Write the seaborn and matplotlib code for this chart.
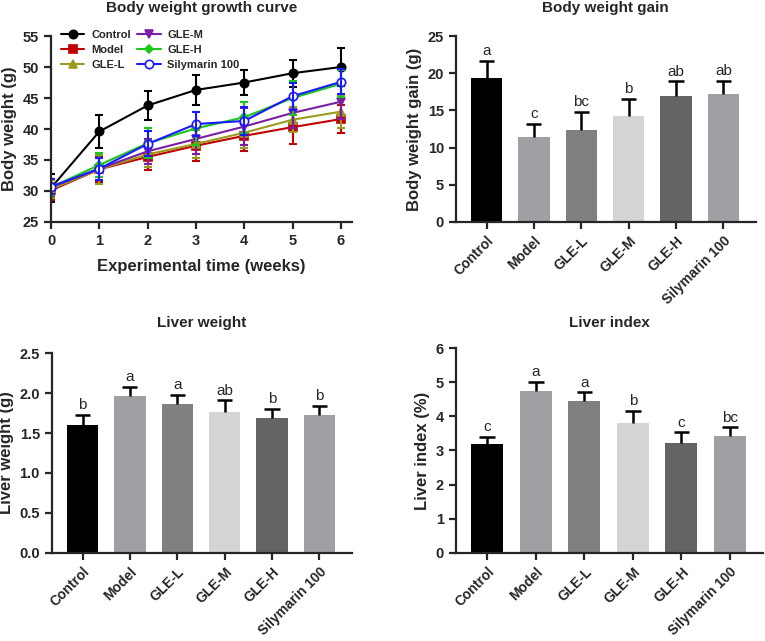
import numpy as np
import pandas as pd
import matplotlib
matplotlib.use("Agg")
import matplotlib.pyplot as plt
import seaborn as sns

sns.set_style("ticks")
plt.rcParams["font.family"] = ["Liberation Sans", "DejaVu Sans"]

# ---------- data ----------
weeks = [0, 1, 2, 3, 4, 5, 6]
groups = ["Control", "Model", "GLE-L", "GLE-M", "GLE-H", "Silymarin 100"]

growth_mean = {
    "Control":       [30.5, 39.6, 43.8, 46.3, 47.5, 49.0, 50.0],
    "Model":         [30.1, 33.5, 35.5, 37.3, 38.9, 40.3, 41.6],
    "GLE-L":         [30.3, 33.5, 35.9, 37.6, 39.4, 41.5, 42.8],
    "GLE-M":         [30.6, 33.6, 36.4, 38.4, 40.4, 42.6, 44.4],
    "GLE-H":         [30.6, 34.2, 37.7, 40.1, 41.9, 45.0, 47.3],
    "Silymarin 100": [30.7, 33.6, 37.6, 40.8, 41.3, 45.3, 47.6],
}
growth_sd = {
    "Control":       [2.2, 2.6, 2.4, 2.4, 2.0, 2.2, 3.0],
    "Model":         [1.6, 2.0, 2.1, 2.5, 2.5, 2.7, 2.2],
    "GLE-L":         [1.5, 2.3, 2.1, 2.2, 2.4, 2.0, 2.7],
    "GLE-M":         [1.4, 1.8, 2.0, 2.4, 3.0, 2.5, 2.8],
    "GLE-H":         [1.3, 2.0, 2.4, 2.7, 2.5, 2.8, 2.2],
    "Silymarin 100": [1.2, 1.8, 2.0, 2.0, 2.3, 2.2, 2.0],
}

gain_mean = [19.3, 11.4, 12.3, 14.2, 16.9, 17.2]
gain_sd = [2.35, 1.8, 2.5, 2.4, 2.0, 1.8]
gain_letters = ["a", "c", "bc", "b", "ab", "ab"]

liver_w_mean = [1.60, 1.97, 1.86, 1.77, 1.69, 1.73]
liver_w_sd = [0.13, 0.11, 0.12, 0.14, 0.11, 0.11]
liver_w_letters = ["b", "a", "a", "ab", "b", "b"]

liver_i_mean = [3.20, 4.75, 4.44, 3.81, 3.22, 3.42]
liver_i_sd = [0.20, 0.27, 0.27, 0.35, 0.31, 0.26]
liver_i_letters = ["c", "a", "a", "b", "c", "bc"]

line_colors = ["#000000", "#C00000", "#9A9A1E", "#7A1FA2", "#19C819", "#1A1AFF"]
line_markers = ["o", "s", "^", "v", "D", "o"]
bar_colors = ["#000000", "#A0A0A4", "#808080", "#D4D4D4", "#646464", "#A0A0A4"]

fig = plt.figure(figsize=(7.65, 6.41), dpi=100)

ax1 = fig.add_axes([0.0667, 0.6537, 0.3935, 0.2901])
ax2 = fig.add_axes([0.5957, 0.6537, 0.392, 0.2901])
ax3 = fig.add_axes([0.0676, 0.1378, 0.392, 0.311])
ax4 = fig.add_axes([0.5957, 0.1378, 0.4017, 0.3188])

tick_fs = 10.5
label_fs = 12
title_fs = 11


def style_axis(ax):
    sns.despine(ax=ax)
    for s in ["left", "bottom"]:
        ax.spines[s].set_linewidth(1.6)
    ax.tick_params(width=1.6, length=5, labelsize=tick_fs, direction="out")
    for lab in ax.get_xticklabels() + ax.get_yticklabels():
        lab.set_fontweight("bold")


# ---------- growth curve ----------
for g, c, m in zip(groups, line_colors, line_markers):
    df = pd.DataFrame({"week": weeks, "bw": growth_mean[g]})
    face = "white" if g == "Silymarin 100" else c
    ms = 4.5 if m == "D" else 6
    sns.lineplot(data=df, x="week", y="bw", ax=ax1, color=c, marker=m,
                 markersize=ms, markerfacecolor=face, markeredgecolor=c,
                 markeredgewidth=1.2, linewidth=1.5, label=g)
    ax1.errorbar(weeks, growth_mean[g], yerr=growth_sd[g], fmt="none",
                 ecolor=c, elinewidth=1.5, capsize=3, capthick=1.5)

ax1.set_xlim(0, 6.23)
ax1.set_ylim(25, 55)
ax1.set_xticks(weeks)
ax1.set_yticks([25, 30, 35, 40, 45, 50, 55])
ax1.set_xlabel("Experimental time (weeks)", fontsize=label_fs,
               fontweight="bold", labelpad=8)
ax1.set_ylabel("Body weight (g)", fontsize=label_fs, fontweight="bold")
ax1.set_title("Body weight growth curve", fontsize=title_fs,
              fontweight="bold", pad=17)
leg = ax1.legend(ncol=2, loc="upper left", bbox_to_anchor=(0.0, 1.085),
                 frameon=False, fontsize=8, handlelength=2.1,
                 handletextpad=0.6, columnspacing=0.6, labelspacing=0.45)
for t in leg.get_texts():
    t.set_fontweight("bold")
style_axis(ax1)


# ---------- bar charts ----------
def bar_panel(ax, means, sds, letters, ylim, yticks, ylabel, title, fmt, off, pad):
    df = pd.DataFrame({"group": groups, "value": means})
    sns.barplot(data=df, x="group", y="value", hue="group", palette=bar_colors,
                legend=False, width=0.66, errorbar=None, ax=ax, linewidth=0)
    x = np.arange(len(groups))
    tops = np.array(means) + np.array(sds)
    ax.vlines(x, means, tops, color="black", linewidth=1.8, zorder=3)
    ax.hlines(tops, x - 0.16, x + 0.16, color="black", linewidth=1.8, zorder=3)
    for i, (tp, lt) in enumerate(zip(tops, letters)):
        ax.text(i, tp + off, lt, ha="center", va="bottom", fontsize=11)
    ax.set_ylim(*ylim)
    ax.set_yticks(yticks)
    ax.set_yticklabels([fmt.format(v) for v in yticks])
    ax.set_xlim(-0.65, 5.68)
    ax.set_xlabel("")
    ax.set_ylabel(ylabel, fontsize=label_fs, fontweight="bold")
    ax.set_title(title, fontsize=title_fs, fontweight="bold", pad=pad)
    ax.set_xticks(x)
    ax.set_xticklabels(groups, rotation=45, ha="right", rotation_mode="anchor")
    style_axis(ax)
    for lab in ax.get_xticklabels():
        lab.set_fontsize(10)


bar_panel(ax2, gain_mean, gain_sd, gain_letters, (0, 25), [0, 5, 10, 15, 20, 25],
          "Body weight gain (g)", "Body weight gain", "{:.0f}", 0.35, 17)
bar_panel(ax3, liver_w_mean, liver_w_sd, liver_w_letters, (0, 2.5),
          [0.0, 0.5, 1.0, 1.5, 2.0, 2.5], "Liver weight (g)", "Liver weight",
          "{:.1f}", 0.035, 19)
bar_panel(ax4, liver_i_mean, liver_i_sd, liver_i_letters, (0, 6),
          [0, 1, 2, 3, 4, 5, 6], "Liver index (%)", "Liver index", "{:.0f}",
          0.08, 15)

fig.savefig("out.png", dpi=100)
